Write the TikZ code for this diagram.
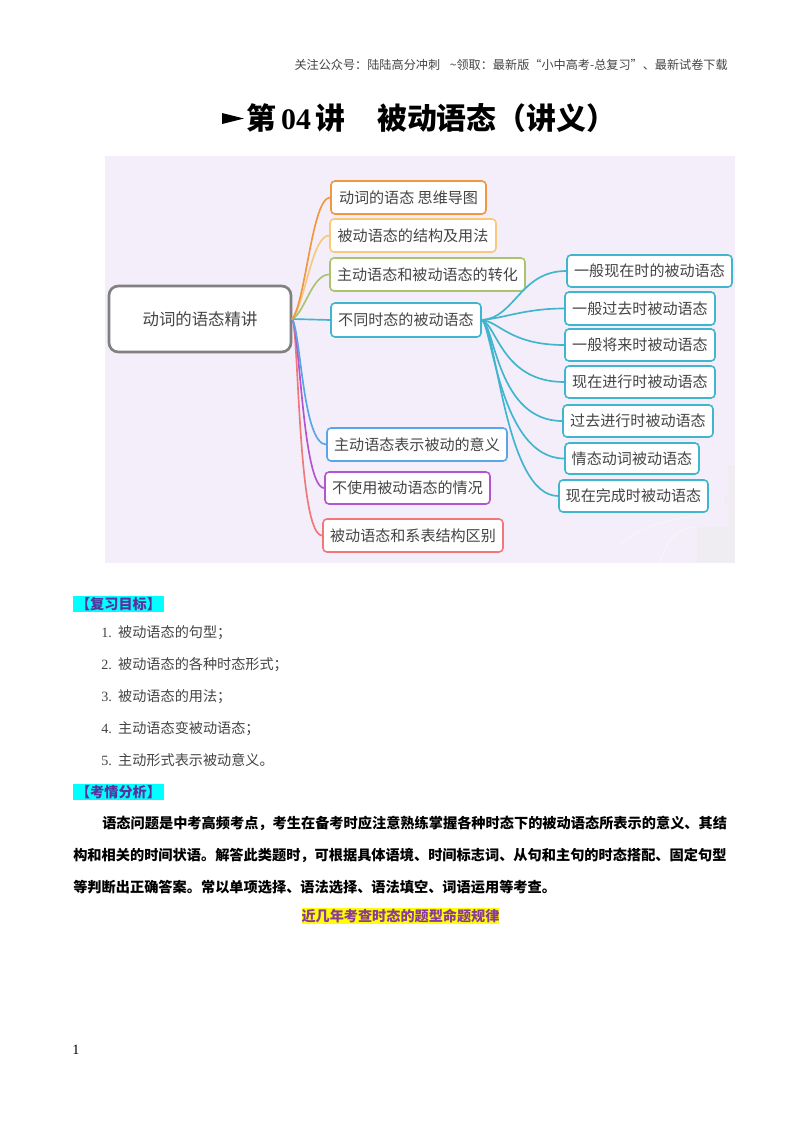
\documentclass[tikz,border=0pt]{standalone}
\usepackage{fontspec}
\setmainfont{Liberation Serif}
\newfontfamily\cjk{Noto Sans CJK SC}
\usetikzlibrary{calc}
\definecolor{bgl}{HTML}{F3EEFA}
\definecolor{bgdeco}{HTML}{EFEDF1}
\definecolor{cora}{HTML}{F0973F}
\definecolor{cyel}{HTML}{F8C97A}
\definecolor{cgrn}{HTML}{A9C46C}
\definecolor{ctea}{HTML}{3FB5CE}
\definecolor{cblu}{HTML}{5AA5E8}
\definecolor{cpur}{HTML}{B455D0}
\definecolor{cred}{HTML}{F07878}
\definecolor{cgry}{HTML}{808080}
\definecolor{ctxt}{HTML}{444444}
\definecolor{chead}{HTML}{5B2FA0}
\definecolor{ctitle}{HTML}{8A3A9A}
\definecolor{hlcyan}{HTML}{00FFFF}
\definecolor{hlyel}{HTML}{FFFF00}
\tikzset{
  mapbox/.style={draw=#1,line width=1.2pt,fill=white,rounded corners=3pt,inner sep=0pt,text=ctxt,font=\cjk\fontsize{11.3}{13}\selectfont},
  rootbox/.style={draw=cgry,line width=2pt,fill=white,rounded corners=7pt,inner sep=0pt,text=ctxt,font=\cjk\fontsize{12.3}{14}\selectfont},
  link/.style={draw=#1,line width=1.25pt,line cap=round},
  listline/.style={anchor=west,inner sep=0pt,text=ctxt,font=\fontsize{10.6}{12}\selectfont},
  boldline/.style={anchor=west,inner sep=0pt,text=black,font=\cjk\bfseries\fontsize{10.65}{12}\selectfont},
  tag/.style={inner sep=0pt,anchor=center,font=\cjk\bfseries\fontsize{10.6}{12}\selectfont}
}
\newcommand{\mapnode}[7]{%
  \node[mapbox=#6,minimum width={(#4-#2)*0.75pt},minimum height={(#5-#3)*0.75pt}] (#1) at ({(#2+#4)/2},{-(#3+#5)/2}) {#7};}
\begin{document}
\begin{tikzpicture}[x=0.75pt,y=0.75pt]
\useasboundingbox (0,0) rectangle (800,-1132);
\fill[white] (0,0) rectangle (800,-1132);
% header
\node[anchor=east,inner sep=0pt,text=ctxt,font=\cjk\fontsize{9.1}{11}\selectfont] (hdr) at (728,-64.5) {关注公众号：陆陆高分冲刺\hspace{0.8em}\textasciitilde 领取：最新版“小中高考-总复习”、最新试卷下载};
% title
\fill[black] (222,-113) -- (244,-118.5) -- (222,-124) -- cycle;
\node[anchor=west,inner sep=0pt,font=\bfseries\fontsize{22.4}{26}\selectfont] (title) at (246,-118) {{\cjk 第}\,04\,{\cjk 讲}\hspace{1.05em}{\cjk 被动语态（讲义）}};
% picture background with its faint decoration
\fill[bgl] (105,-156) rectangle (735,-563);
\fill[bgdeco] (697,-527) rectangle (735,-563);
\fill[bgdeco] (728,-465) rectangle (735,-527);
\fill[bgdeco] (724,-495) rectangle (735,-503);
\draw[white,opacity=.35,line width=1pt] (660,-563) .. controls (668,-535) and (680,-528) .. (697,-527);
\draw[white,opacity=.35,line width=1pt] (620,-545) .. controls (640,-525) and (665,-522) .. (697,-515);
% boxes
\node[rootbox,minimum width=136.5pt,minimum height=49.5pt] (root) at (200,-319) {动词的语态精讲};
\mapnode{a}{331}{181}{486}{214}{cora}{动词的语态 思维导图}
\mapnode{b}{330}{219}{496}{252}{cyel}{被动语态的结构及用法}
\mapnode{c}{330}{258}{525}{291}{cgrn}{主动语态和被动语态的转化}
\mapnode{d}{331}{303}{481}{337}{ctea}{不同时态的被动语态}
\mapnode{e}{327}{428}{507}{461}{cblu}{主动语态表示被动的意义}
\mapnode{f}{325}{472}{490}{504}{cpur}{不使用被动语态的情况}
\mapnode{g}{323}{519}{503}{552}{cred}{被动语态和系表结构区别}
\mapnode{s1}{567}{255}{732}{287}{ctea}{一般现在时的被动语态}
\mapnode{s2}{565}{292}{715}{325}{ctea}{一般过去时被动语态}
\mapnode{s3}{565}{329}{715}{361}{ctea}{一般将来时被动语态}
\mapnode{s4}{565}{366}{715}{398}{ctea}{现在进行时被动语态}
\mapnode{s5}{563}{405}{713}{437}{ctea}{过去进行时被动语态}
\mapnode{s6}{565}{443}{699}{474}{ctea}{情态动词被动语态}
\mapnode{s7}{559}{480}{708}{512}{ctea}{现在完成时被动语态}
% connectors
\draw[link=cred] (root.east) .. controls (299,-335) and (298,-535.5) .. (g.west);
\draw[link=cpur] (root.east) .. controls (300,-335) and (303,-488) .. (f.west);
\draw[link=cblu] (root.east) .. controls (301,-335) and (303,-444.5) .. (e.west);
\draw[link=ctea] (root.east) -- (d.west);
\draw[link=cgrn] (root.east) .. controls (305,-312) and (312,-274.5) .. (c.west);
\draw[link=cyel] (root.east) .. controls (306,-300) and (312,-235.5) .. (b.west);
\draw[link=cora] (root.east) .. controls (306,-300) and (312,-197.5) .. (a.west);
\draw[link=ctea] (d.east) .. controls (515,-318) and (520,-271) .. (s1.west);
\draw[link=ctea] (d.east) .. controls (505,-318) and (525,-308.5) .. (s2.west);
\draw[link=ctea] (d.east) .. controls (500,-322) and (510,-345) .. (s3.west);
\draw[link=ctea] (d.east) .. controls (497,-325) and (502,-382) .. (s4.west);
\draw[link=ctea] (d.east) .. controls (495,-325) and (497,-421) .. (s5.west);
\draw[link=ctea] (d.east) .. controls (492,-325) and (500,-458.5) .. (s6.west);
\draw[link=ctea] (d.east) .. controls (497,-330) and (505,-496) .. (s7.west);
% section tags
\fill[hlcyan] (73,-595.5) rectangle (164,-612);
\node[tag,text=chead] (t1) at (118.5,-604) {{\cjk 【复习目标】}};
\node[listline] (l1) at (101,-633) {1.\hspace{0.45em}{\cjk 被动语态的句型；}};
\node[listline] (l2) at (101,-665) {2.\hspace{0.45em}{\cjk 被动语态的各种时态形式；}};
\node[listline] (l3) at (101,-697) {3.\hspace{0.45em}{\cjk 被动语态的用法；}};
\node[listline] (l4) at (101,-729) {4.\hspace{0.45em}{\cjk 主动语态变被动语态；}};
\node[listline] (l5) at (101,-760) {5.\hspace{0.45em}{\cjk 主动形式表示被动意义。}};
\fill[hlcyan] (73,-783.5) rectangle (164,-800);
\node[tag,text=chead] (t2) at (118.5,-792) {{\cjk 【考情分析】}};
\node[boldline] (p1) at (102,-823) {语态问题是中考高频考点，考生在备考时应注意熟练掌握各种时态下的被动语态所表示的意义、其结};
\node[boldline] (p2) at (73,-855) {构和相关的时间状语。解答此类题时，可根据具体语境、时间标志词、从句和主句的时态搭配、固定句型};
\node[boldline] (p3) at (73,-887) {等判断出正确答案。常以单项选择、语法选择、语法填空、词语运用等考查。};
\fill[hlyel] (302,-907.5) rectangle (499,-924);
\node[tag,text=ctitle] (t3) at (400.5,-916) {{\cjk 近几年考查时态的题型命题规律}};
\node[anchor=west,inner sep=0pt,font=\fontsize{10.6}{12}\selectfont] (pg) at (72,-1050) {1};
\end{tikzpicture}
\end{document}
